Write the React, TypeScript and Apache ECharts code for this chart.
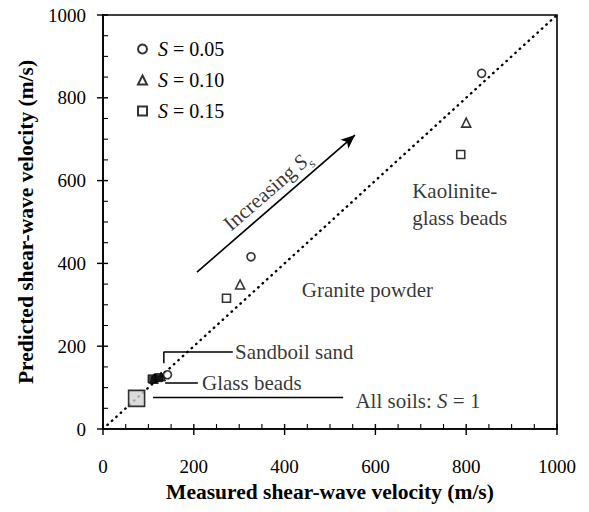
import React, { useEffect, useRef } from "react";
import * as echarts from "echarts";

// Legend entries and their symbols
const sLevels = ["S = 0.05", "S = 0.10", "S = 0.15"];
const sSymbols = ["circle", "triangle", "rect"];

// Measured vs predicted shear-wave velocity (m/s), one value per S level
const kaoliniteMeasured = [834, 800, 788];
const kaolinitePredicted = [859, 740, 663];
const graniteMeasured = [326, 302, 272];
const granitePredicted = [416, 349, 316];
const sandboilMeasured = [142, 128, 122];
const sandboilPredicted = [131, 127, 124];
const glassMeasured = [115, 112, 108];
const glassPredicted = [122, 121, 121];

// All soils at S = 1
const allSoilsPoint = [74, 74];

// Axis tick positions (major ticks carry labels)
const majorTicks = [0, 200, 400, 600, 800, 1000];
const minorTicks = [50, 100, 150, 250, 300, 350, 450, 500, 550, 650, 700, 750, 850, 900, 950];

// 1:1 reference line
const equalityLine = [
  [0, 0],
  [1000, 1000],
];

// Trend arrow (data coordinates)
const arrowStart = [207, 379];
const arrowEnd = [555, 710];

// Leader lines for annotations (data coordinates)
const sandboilLeader = [
  [134, 159],
  [134, 186],
  [286, 186],
];
const glassLeader = [
  [137, 111],
  [209, 111],
];
const allSoilsLeader = [
  [110, 76],
  [529, 76],
];

// Annotation anchors: [x, y, text]
const annotations: [number, number, string][] = [
  [291, 186, "Sandboil sand"],
  [218, 111, "Glass beads"],
  [438, 336, "Granite powder"],
  [681, 574, "Kaolinite-"],
  [681, 510, "glass beads"],
];
const allSoilsLabelPos = [556, 68];
const trendLabelPos = [362, 575];

const FONT = "Liberation Serif";

export default function App() {
  const ref = useRef<HTMLDivElement>(null);

  useEffect(() => {
    if (!ref.current) return;
    const chart = echarts.init(ref.current, undefined, { renderer: "svg" });

    const openStyle = {
      color: "#ffffff",
      borderColor: "#000000",
      borderWidth: 1.6,
    };
    const filled = { color: "#111111", borderColor: "#000000", borderWidth: 1 };

    const sSeries = sLevels.map((name, i) => ({
      type: "scatter",
      name,
      symbol: sSymbols[i],
      symbolSize: i === 1 ? 9 : 8,
      itemStyle: openStyle,
      z: 5,
      data: [
        [kaoliniteMeasured[i], kaolinitePredicted[i]],
        [graniteMeasured[i], granitePredicted[i]],
        i === 0
          ? [sandboilMeasured[i], sandboilPredicted[i]]
          : { value: [sandboilMeasured[i], sandboilPredicted[i]], itemStyle: filled },
        { value: [glassMeasured[i], glassPredicted[i]], itemStyle: filled },
      ],
    }));

    const leader = (data: number[][]) => ({
      type: "line",
      data,
      showSymbol: false,
      silent: true,
      lineStyle: { color: "#000", width: 1.5 },
      z: 3,
    });

    // Tick marks along an axis: majors cross the axis line, minors point inward
    const tickSeries = (dim: "x" | "y") => ({
      type: "custom",
      silent: true,
      clip: false,
      z: 10,
      encode: { x: 0, y: 1 },
      data: [
        ...majorTicks.map((v) => (dim === "x" ? [v, 0, 1] : [0, v, 1])),
        ...minorTicks.map((v) => (dim === "x" ? [v, 0, 0] : [0, v, 0])),
      ],
      renderItem: (_params: any, api: any) => {
        const p = api.coord([api.value(0), api.value(1)]);
        const major = api.value(2) === 1;
        const outer = major ? 6 : 0;
        const inner = 5;
        const shape =
          dim === "x"
            ? { x1: p[0], y1: p[1] + outer, x2: p[0], y2: p[1] - inner }
            : { x1: p[0] - outer, y1: p[1], x2: p[0] + inner, y2: p[1] };
        return {
          type: "line",
          shape,
          style: { stroke: "#000", lineWidth: major ? 1.4 : 1.1 },
        };
      },
    });

    const textStyle = { fontFamily: FONT, fontSize: 21, color: "#000" };
    const tickText = { fontFamily: FONT, fontSize: 19, color: "#000" };
    const titleText = { fontFamily: FONT, fontSize: 21.5, color: "#000", fontWeight: "bold" };

    const valueAxis = (pos: string, title: string, gap: number, margin: number) => ({
      type: "value",
      position: pos,
      min: 0,
      max: 1000,
      interval: 200,
      name: title,
      nameLocation: "middle",
      nameGap: gap,
      nameTextStyle: titleText,
      axisLine: { show: true, lineStyle: { color: "#000", width: 1.6 } },
      axisTick: { show: false },
      axisLabel: { ...tickText, margin, formatter: (v: number) => String(v) },
      splitLine: { show: false },
    });

    chart.setOption({
      animation: false,
      backgroundColor: "#ffffff",
      grid: {
        left: 103,
        right: 32,
        top: 15,
        bottom: 83,
        show: true,
        borderColor: "#000",
        borderWidth: 1.6,
      },
      legend: {
        data: sLevels,
        orient: "vertical",
        left: 132,
        top: 34,
        itemWidth: 9,
        itemHeight: 9,
        itemGap: 11,
        selectedMode: false,
        formatter: (name: string) => "{i|S}{t|" + name.slice(1) + "}",
        textStyle: {
          fontFamily: FONT,
          fontSize: 20,
          color: "#000",
          lineHeight: 20,
          padding: [0, 0, 0, 6],
          rich: {
            i: { fontFamily: FONT, fontSize: 20, fontStyle: "italic", color: "#000" },
            t: { fontFamily: FONT, fontSize: 20, color: "#000" },
          },
        },
      },
      xAxis: valueAxis("bottom", "Measured shear-wave velocity (m/s)", 50, 28),
      yAxis: valueAxis("left", "Predicted shear-wave velocity (m/s)", 60, 17),
      series: [
        tickSeries("x"),
        tickSeries("y"),
        {
          type: "line",
          data: equalityLine,
          showSymbol: false,
          silent: true,
          z: 2,
          lineStyle: { color: "#000", width: 2.4, type: [0.5, 5.5], cap: "round" },
        },
        leader(sandboilLeader),
        leader(glassLeader),
        leader(allSoilsLeader),
        ...sSeries,
        {
          type: "scatter",
          name: "S = 1",
          symbol: "rect",
          symbolSize: 16,
          z: 4,
          itemStyle: {
            color: "#d2d2d2",
            borderColor: "#000",
            borderWidth: 1.6,
            decal: {
              symbol: "rect",
              symbolSize: 0.5,
              color: "rgba(90,90,90,0.45)",
              dashArrayX: [1, 2],
              dashArrayY: [1, 2],
            },
          },
          data: [allSoilsPoint],
        },
        {
          type: "scatter",
          silent: true,
          symbolSize: 0,
          z: 6,
          label: {
            show: true,
            position: [0, 0],
            align: "left",
            verticalAlign: "middle",
            ...textStyle,
            formatter: (p: any) => p.data[2],
          },
          data: annotations,
        },
        {
          type: "scatter",
          silent: true,
          symbolSize: 0,
          z: 6,
          label: {
            show: true,
            position: [0, 0],
            align: "left",
            verticalAlign: "middle",
            formatter: "{t|All soils: }{i|S}{t| = 1}",
            rich: {
              t: { ...textStyle },
              i: { ...textStyle, fontStyle: "italic" },
            },
          },
          data: [allSoilsLabelPos],
        },
        {
          type: "scatter",
          silent: true,
          symbolSize: 0,
          z: 6,
          label: {
            show: true,
            position: [0, 0],
            align: "center",
            verticalAlign: "middle",
            rotate: 41,
            formatter: "{t|Increasing }{i|S}{s|s}",
            rich: {
              t: { ...textStyle, verticalAlign: "bottom" },
              i: { ...textStyle, fontStyle: "italic", verticalAlign: "bottom" },
              s: { fontFamily: FONT, fontSize: 13, color: "#000", verticalAlign: "bottom", padding: [0, 0, -4, 0] },
            },
          },
          data: [trendLabelPos],
        },
        {
          type: "scatter",
          silent: true,
          symbolSize: 0,
          data: [],
          markLine: {
            silent: true,
            symbol: ["none", "arrow"],
            symbolSize: [9, 14],
            label: { show: false },
            lineStyle: { color: "#000", width: 1.6, type: "solid" },
            data: [[{ coord: arrowStart }, { coord: arrowEnd }]],
          },
        },
      ],
    });

    return () => chart.dispose();
  }, []);

  return (
    <div
      ref={ref}
      style={{ position: "fixed", left: 0, top: 0, width: 589, height: 512, background: "#fff" }}
    />
  );
}
